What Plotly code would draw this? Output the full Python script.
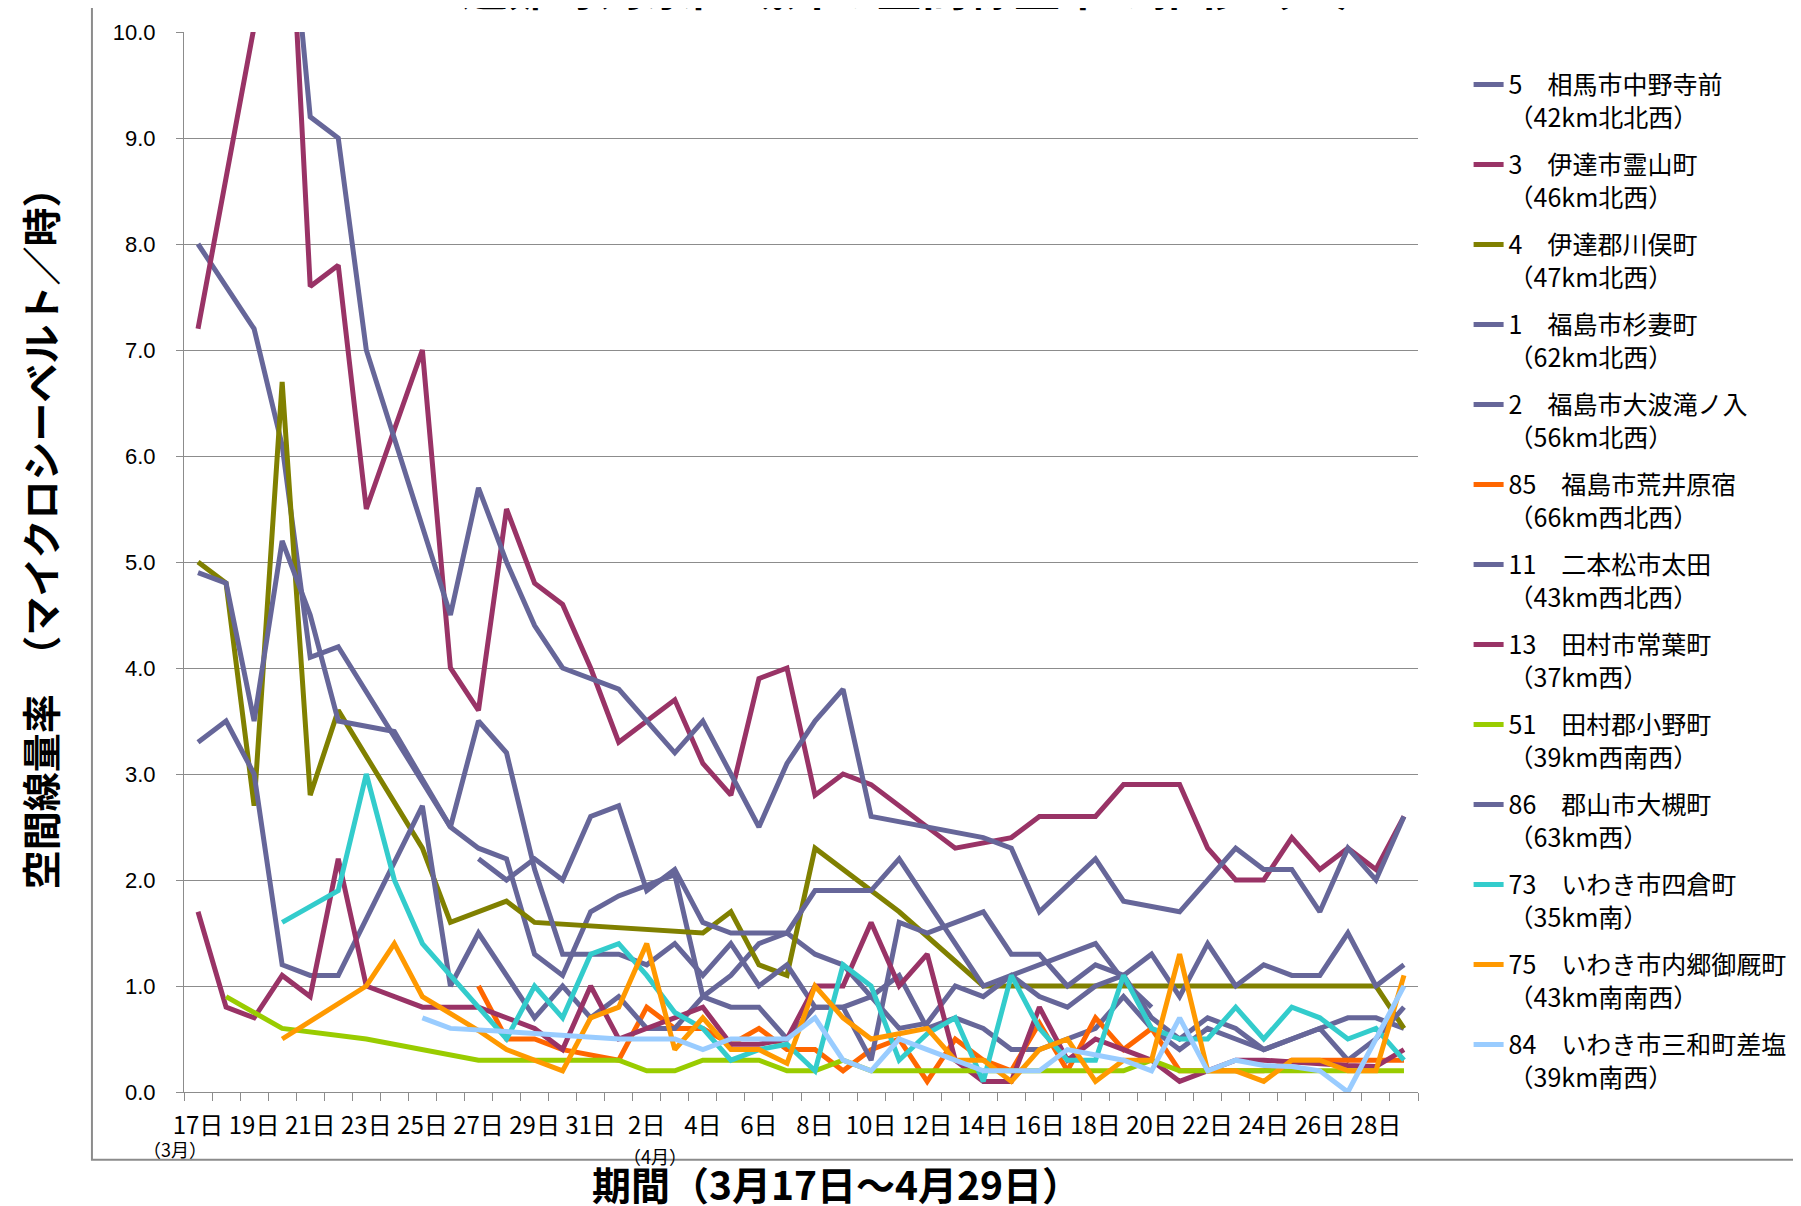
import pandas as pd
import plotly.graph_objects as go

N = None

# ---- categories: one point per day, 17 March to 29 April 2011 ----
dates = pd.date_range("2011-03-17", "2011-04-29", freq="D")
tick_dates = dates[::2]
tick_labels = ["17日", "19日", "21日", "23日", "25日", "27日", "29日", "31日",
               "2日", "4日", "6日", "8日", "10日", "12日", "14日", "16日", "18日",
               "20日", "22日", "24日", "26日", "28日"]
y_ticks = [0, 1, 2, 3, 4, 5, 6, 7, 8, 9, 10]

# ---- series values (μSv/h); None = no reading ----
s5 = [8.0, N, 7.2, 6.1, 4.1, 4.2, N, N, N, 2.5, 2.3, 2.2, 1.3, 1.1, 1.7, 1.85, 1.95, 2.05, 0.9, 1.1,
      1.4, 1.5, 1.3, 1.2, 0.9, 1.1, 0.6, 0.7, 0.6, 0.4, 0.4, 0.5, 0.6, 0.9, 0.6, 0.4, 0.6, 0.5, 0.4, 0.5,
      0.6, 0.7, 0.7, 0.6]
s3 = [7.2, N, 10.05, 12.7, 7.6, 7.8, 5.5, N, 7.0, 4.0, 3.6, 5.5, 4.8, 4.6, 4.0, 3.3, N, 3.7, 3.1, 2.8,
      3.9, 4.0, 2.8, 3.0, 2.9, N, N, 2.3, N, 2.4, 2.6, N, 2.6, 2.9, N, 2.9, 2.3, 2.0, 2.0, 2.4,
      2.1, 2.3, 2.1, 2.6]
s4 = [5.0, 4.8, 2.7, 6.7, 2.8, 3.6, N, N, 2.3, 1.6, N, 1.8, 1.6, N, N, N, N, N, 1.5, 1.7,
      1.2, 1.1, 2.3, N, 1.9, 1.7, N, N, 1.0, 1.0, 1.0, 1.0, 1.0, 1.0, 1.0, 1.0, 1.0, 1.0, 1.0, 1.0,
      1.0, 1.0, 1.0, 0.6]
s1 = [N, N, N, 12.0, 9.2, 9.0, 7.0, N, N, 4.5, 5.7, 5.0, 4.4, 4.0, 3.9, 3.8, N, 3.2, 3.5, N,
      2.5, 3.1, 3.5, 3.8, 2.6, N, N, N, 2.4, 2.3, 1.7, N, 2.2, 1.8, N, 1.7, N, 2.3, 2.1, 2.1,
      1.7, 2.3, 2.0, 2.6]
s2 = [4.9, 4.8, 3.5, 5.2, 4.5, 3.5, N, 3.4, N, 2.5, 3.5, 3.2, 2.1, 1.3, 1.3, 1.3, 1.2, 1.4, 1.1, 1.4,
      1.0, 1.2, 0.8, 0.8, 0.9, 0.6, 0.65, 1.0, 0.9, 1.1, 0.9, 0.8, 1.0, 1.1, 0.7, 0.5, 0.7, 0.6, 0.4, 0.5,
      0.6, 0.3, 0.5, 0.8]
s85 = [N, N, N, N, N, N, N, N, N, N, 1.0, 0.5, 0.5, 0.4, N, 0.3, 0.8, 0.6, 0.6, 0.45,
       0.6, 0.4, 0.4, 0.2, 0.4, 0.5, 0.1, 0.5, 0.3, 0.2, 0.65, 0.2, 0.7, 0.4, 0.6, 0.2, 0.2, 0.2, 0.2, 0.3,
       0.3, 0.3, 0.3, 0.3]
s11 = [3.3, 3.5, 3.0, 1.2, 1.1, 1.1, N, N, 2.7, 1.0, 1.5, 1.1, 0.7, 1.0, 0.7, 0.9, 0.6, 0.6, 0.9, 0.8,
       0.8, 0.5, 0.8, 0.8, 0.3, 1.6, 1.5, N, 1.7, 1.3, 1.3, 1.0, 1.2, 1.1, 1.3, 0.9, 1.4, 1.0, 1.2, 1.1,
       1.1, 1.5, 1.0, 1.2]
s13 = [1.7, 0.8, 0.7, 1.1, 0.9, 2.2, 1.0, N, 0.8, N, 0.8, 0.7, 0.6, 0.4, 1.0, 0.5, 0.6, 0.7, 0.8, 0.45,
       0.45, 0.5, 1.0, 1.0, 1.6, 1.0, 1.3, 0.3, 0.1, 0.1, 0.8, 0.3, 0.5, 0.4, 0.3, 0.1, 0.2, 0.3, 0.3, 0.28,
       0.27, 0.25, 0.24, 0.4]
s51 = [N, 0.9, N, 0.6, N, N, 0.5, N, N, N, 0.3, 0.3, 0.3, 0.3, 0.3, 0.3, 0.2, 0.2, 0.3, 0.3,
       0.3, 0.2, 0.2, 0.3, 0.2, 0.2, 0.2, 0.2, 0.2, 0.2, 0.2, 0.2, 0.2, 0.2, 0.3, 0.2, 0.2, 0.2, 0.2, 0.2,
       0.2, 0.2, 0.2, 0.2]
s86 = [N, N, N, N, N, N, N, N, N, N, 2.2, 2.0, 2.2, 2.0, 2.6, 2.7, 1.9, 2.1, 1.6, 1.5,
       1.5, 1.5, 1.9, 1.9, 1.9, 2.2, N, N, 1.0, 1.1, 1.2, 1.3, 1.4, 1.05, 0.8, N, N, N, N, N,
       N, N, N, N]
s73 = [N, N, N, 1.6, N, 1.9, 3.0, 2.0, 1.4, N, N, 0.5, 1.0, 0.7, 1.3, 1.4, 1.1, 0.75, 0.6, 0.3,
       0.4, 0.45, 0.2, 1.2, 1.0, 0.3, 0.55, 0.7, 0.1, 1.1, 0.6, 0.3, 0.3, 1.1, 0.6, 0.5, 0.5, 0.8, 0.5, 0.8,
       0.7, 0.5, 0.6, 0.3]
s75 = [N, N, N, 0.5, N, N, 1.0, 1.4, 0.9, N, 0.58, 0.4, N, 0.2, 0.7, 0.8, 1.4, 0.4, 0.7, 0.4,
       0.4, 0.27, 1.0, 0.7, 0.5, 0.55, 0.6, 0.3, 0.3, 0.1, 0.4, 0.5, 0.1, 0.3, 0.3, 1.3, 0.2, 0.2, 0.1, 0.3,
       0.3, 0.2, 0.2, 1.1]
s84 = [N, N, N, N, N, N, N, N, 0.7, 0.6, N, 0.57, N, N, N, 0.5, N, 0.5, 0.4, 0.5,
       N, 0.5, 0.7, 0.3, 0.2, 0.5, 0.4, 0.3, 0.2, 0.2, 0.2, 0.4, 0.35, 0.3, 0.2, 0.7, 0.2, 0.3, 0.25, 0.24,
       0.2, 0.0, 0.5, 1.0]

series_names = [
    "5　相馬市中野寺前<br>（42km北北西）",
    "3　伊達市霊山町<br>（46km北西）",
    "4　伊達郡川俣町<br>（47km北西）",
    "1　福島市杉妻町<br>（62km北西）",
    "2　福島市大波滝ノ入<br>（56km北西）",
    "85　福島市荒井原宿<br>（66km西北西）",
    "11　二本松市太田<br>（43km西北西）",
    "13　田村市常葉町<br>（37km西）",
    "51　田村郡小野町<br>（39km西南西）",
    "86　郡山市大槻町<br>（63km西）",
    "73　いわき市四倉町<br>（35km南）",
    "75　いわき市内郷御厩町<br>（43km南南西）",
    "84　いわき市三和町差塩<br>（39km南西）",
]
series_values = [s5, s3, s4, s1, s2, s85, s11, s13, s51, s86, s73, s75, s84]
series_colors = ["#666699", "#993366", "#808000", "#666699", "#666699", "#FF6600", "#666699",
                 "#993366", "#99CC00", "#666699", "#33CCCC", "#FF9900", "#99CCFF"]

JP = "Noto Sans CJK JP"
GRID = "#8c8c8c"

fig = go.Figure()
for k, (name, vals, col) in enumerate(zip(series_names, series_values, series_colors)):
    fig.add_trace(go.Scatter(
        x=dates, y=vals, name=name, mode="lines",
        line=dict(color=col, width=5),
        connectgaps=True, legendgroup=f"g{k}",
    ))

fig.update_layout(
    width=1801, height=1206,
    margin=dict(l=176, r=391, t=22, b=122),
    plot_bgcolor="white", paper_bgcolor="white",
    font=dict(family=JP, color="black"),
    showlegend=True,
    legend=dict(
        x=1.041, y=0.972, xanchor="left", yanchor="top",
        font=dict(family=JP, size=25, color="black"),
        tracegroupgap=12, valign="top", bgcolor="rgba(0,0,0,0)",
    ),
)

fig.update_xaxes(
    range=["2011-03-16 12:00", "2011-04-29 12:00"],
    tickmode="array", tickvals=tick_dates, ticktext=tick_labels,
    ticks="", tickfont=dict(family=JP, size=24, color="black"),
    ticklabelstandoff=12,
    showgrid=False, zeroline=False,
    showline=True, linecolor=GRID, linewidth=1,
    minor=dict(ticks="outside", ticklen=8, tickcolor=GRID, tickwidth=1,
               tick0="2011-03-16 12:00", dtick=86400000, showgrid=False),
)
fig.update_yaxes(
    range=[0, 10], tickmode="array", tickvals=y_ticks, tickformat=".1f",
    ticks="outside", ticklen=7, tickcolor=GRID,
    tickfont=dict(family="Liberation Sans", size=22, color="black"),
    ticklabelstandoff=16,
    showgrid=True, gridcolor=GRID, gridwidth=1,
    zeroline=False, showline=True, linecolor=GRID, linewidth=1,
)

# outer chart frame
fig.add_shape(type="rect", xref="paper", yref="paper",
              x0=-0.0746, x1=1.40, y0=-0.064, y1=1.0245,
              line=dict(color=GRID, width=2), fillcolor="rgba(0,0,0,0)")

annotations = [
    dict(text="<b>避難等対象区域外の空間線量率の推移（２）</b>", x=0.598, y=1.0113,
         xanchor="center", yanchor="bottom", font=dict(size=46, family=JP)),
    dict(text="<b>空間線量率　（マイクロシーベルト／時）</b>", x=-0.1175, y=0.531,
         textangle=-90, xanchor="center", yanchor="middle", font=dict(size=39, family=JP)),
    dict(text="<b>期間（3月17日～4月29日）</b>", x=0.529, y=-0.0857,
         xanchor="center", yanchor="middle", font=dict(size=39, family=JP)),
    dict(text="（3月）", x=-0.0073, y=-0.0535, xanchor="center", yanchor="middle",
         font=dict(size=18, family=JP)),
    dict(text="（4月）", x=0.3817, y=-0.0600, xanchor="center", yanchor="middle",
         font=dict(size=18, family=JP)),
]
for a in annotations:
    a.update(xref="paper", yref="paper", showarrow=False)
    fig.add_annotation(**a)

fig.write_html("out.html")
